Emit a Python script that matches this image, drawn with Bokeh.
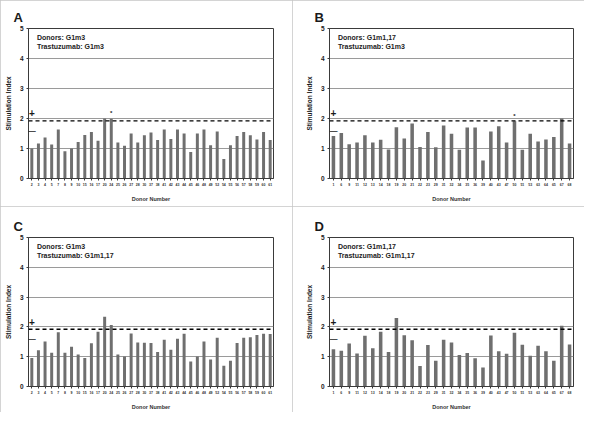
from bokeh.plotting import figure
from bokeh.layouts import gridplot
from bokeh.models import FixedTicker, Span, Label, AllLabels, ColumnDataSource
from bokeh.core.properties import value
from bokeh.embed import file_html
from bokeh.resources import INLINE

# ---------------- data ----------------
donors_g1m3 = [2, 3, 4, 5, 7, 8, 9, 10, 15, 16, 17, 20, 24, 25, 26, 27, 28, 30, 37,
               38, 41, 42, 43, 44, 45, 46, 48, 49, 52, 54, 55, 56, 57, 58, 59, 60, 61]
donors_g1m17 = [1, 6, 9, 11, 12, 13, 14, 18, 19, 20, 21, 22, 23, 29, 31, 32, 34, 35,
                36, 39, 40, 43, 47, 50, 51, 53, 63, 64, 65, 67, 68]

si_A = [1.00, 1.17, 1.37, 1.13, 1.63, 0.91, 1.00, 1.22, 1.45, 1.55, 1.26, 2.00, 1.99,
        1.20, 1.09, 1.50, 1.20, 1.44, 1.53, 1.28, 1.63, 1.32, 1.63, 1.50, 0.88, 1.50,
        1.63, 1.11, 1.57, 0.65, 1.11, 1.42, 1.55, 1.44, 1.30, 1.55, 1.28]
si_B = [1.42, 1.52, 1.14, 1.20, 1.44, 1.20, 1.29, 0.97, 1.71, 1.33, 1.83, 1.05, 1.55,
        1.04, 1.77, 1.49, 0.96, 1.70, 1.70, 0.60, 1.57, 1.74, 1.20, 1.91, 0.96, 1.49,
        1.23, 1.30, 1.38, 2.00, 1.17]
si_C = [0.96, 1.22, 1.51, 1.13, 1.82, 1.13, 1.33, 1.07, 0.96, 1.45, 1.84, 2.34, 2.06,
        1.07, 1.01, 1.78, 1.48, 1.47, 1.46, 1.16, 1.57, 1.23, 1.60, 1.77, 0.84, 1.01,
        1.51, 0.91, 1.64, 0.70, 0.86, 1.46, 1.64, 1.65, 1.73, 1.77, 1.76]
si_D = [1.25, 1.20, 1.44, 1.11, 1.70, 1.28, 1.84, 1.16, 2.30, 1.72, 1.55, 0.69, 1.39,
        0.86, 1.57, 1.48, 1.06, 1.12, 0.95, 0.64, 1.71, 1.18, 1.10, 1.80, 1.40, 1.03,
        1.37, 1.18, 0.86, 2.04, 1.41]

threshold = 1.92
y_ticks = [0, 1, 2, 3, 4, 5]
grid_levels = [1, 2, 3, 4]

BAR = "#6f6f6f"
FONT = "Liberation Sans"
INK = "#1a1a1a"


def make_panel(letter, donors, si, donor_allo, trast_allo, star, borders):
    n = len(donors)
    left, right, top, bottom = borders
    p = figure(width=292, height=206, x_range=(-0.5, n - 0.5), y_range=(0, 5),
               output_backend="svg", toolbar_location=None,
               min_border_left=left, min_border_right=right,
               min_border_top=top, min_border_bottom=bottom,
               title=letter)
    p.title.text_font = FONT
    p.title.text_font_size = "13px"
    p.title.text_font_style = "bold"
    p.title.text_color = INK
    p.title.align = "left"
    p.title.offset = -15
    p.title.standoff = 7

    src = ColumnDataSource(dict(x=list(range(n)), top=si))
    p.vbar(x="x", top="top", bottom=0, width=0.45, source=src,
           fill_color=BAR, line_color=None)

    p.xgrid.visible = False
    p.ygrid.ticker = FixedTicker(ticks=grid_levels)
    p.ygrid.grid_line_color = "#9a9a9a"
    p.ygrid.grid_line_width = 1
    p.ygrid.level = "underlay"

    p.add_layout(Span(location=threshold, dimension="width", line_color="black",
                      line_dash="4 3", line_width=1.4))

    p.outline_line_color = "#3a3a3a"
    p.outline_line_width = 1
    p.background_fill_color = "white"
    p.border_fill_color = "white"

    # axes
    p.yaxis.ticker = FixedTicker(ticks=y_ticks)
    p.yaxis.axis_label = "Stimulation Index"
    p.yaxis.axis_label_text_font = FONT
    p.yaxis.axis_label_text_font_size = "6.5px"
    p.yaxis.axis_label_text_font_style = "bold"
    p.yaxis.axis_label_text_color = INK
    p.yaxis.axis_label_standoff = 5
    p.yaxis.major_label_text_font = FONT
    p.yaxis.major_label_text_font_size = "6.5px"
    p.yaxis.major_label_text_font_style = "bold"
    p.yaxis.major_label_text_color = INK
    p.yaxis.major_label_standoff = 3
    p.yaxis.major_tick_out = 2
    p.yaxis.major_tick_in = 0
    p.yaxis.minor_tick_out = 0
    p.yaxis.minor_tick_in = 0
    p.yaxis.axis_line_color = "#3a3a3a"
    p.yaxis.major_tick_line_color = "#3a3a3a"

    p.xaxis.ticker = FixedTicker(ticks=list(range(n)))
    p.xaxis.major_label_overrides = {i: str(d) for i, d in enumerate(donors)}
    p.xaxis.major_label_policy = AllLabels()
    p.xaxis.major_label_text_font = FONT
    p.xaxis.major_label_text_font_size = "3.5px"
    p.xaxis.major_label_text_font_style = "bold"
    p.xaxis.major_label_text_color = "#333333"
    p.xaxis.major_label_standoff = 2
    p.xaxis.major_tick_out = 2
    p.xaxis.major_tick_in = 0
    p.xaxis.minor_tick_out = 0
    p.xaxis.axis_line_color = "#3a3a3a"
    p.xaxis.major_tick_line_color = "#3a3a3a"
    p.xaxis.axis_label = "Donor Number"
    p.xaxis.axis_label_text_font = FONT
    p.xaxis.axis_label_text_font_size = "5.5px"
    p.xaxis.axis_label_text_font_style = "bold"
    p.xaxis.axis_label_text_color = "#333333"
    p.xaxis.axis_label_standoff = 7

    # text annotations
    tx = -0.5 + 8.5 * n / 245.0
    p.add_layout(Label(x=tx, y=4.71, text="Donors: " + donor_allo,
                       text_font=FONT, text_font_size="7px", text_font_style="bold",
                       text_baseline="middle", text_color="#222222"))
    p.add_layout(Label(x=tx, y=4.39, text="Trastuzumab: " + trast_allo,
                       text_font=FONT, text_font_size="7px", text_font_style="bold",
                       text_baseline="middle", text_color="#222222"))
    p.add_layout(Label(x=0, y=2.18, text="+", text_font=FONT, text_font_size="10px",
                       text_font_style="bold", text_align="center", text_baseline="middle",
                       text_color=INK))
    p.add_layout(Label(x=0, y=1.60, text="\u2014", text_font=FONT, text_font_size="8px",
                       text_font_style="bold", text_align="center", text_baseline="middle",
                       text_color=INK))
    if star is not None:
        p.add_layout(Label(x=star, y=si[star] + 0.08, text="*", text_font=FONT,
                           text_font_size="6px", text_font_style="bold",
                           text_align="center", text_baseline="bottom", text_color=INK))

    p.styles = {"outline": "1px solid #c6c6c6", "outline-offset": "-1px"}
    return p


pA = make_panel("A", donors_g1m3, si_A, "G1m3", "G1m3", 12, (28, 19, 28, 28))
pB = make_panel("B", donors_g1m17, si_B, "G1m1,17", "G1m3", 23, (37, 11, 28, 27))
pC = make_panel("C", donors_g1m3, si_C, "G1m3", "G1m1,17", None, (28, 19, 29, 26))
pD = make_panel("D", donors_g1m17, si_D, "G1m1,17", "G1m1,17", None, (37, 11, 31, 25))

grid = gridplot([[pA, pB], [pC, pD]], toolbar_location=None)

open("out.html", "w").write(file_html(grid, INLINE))
